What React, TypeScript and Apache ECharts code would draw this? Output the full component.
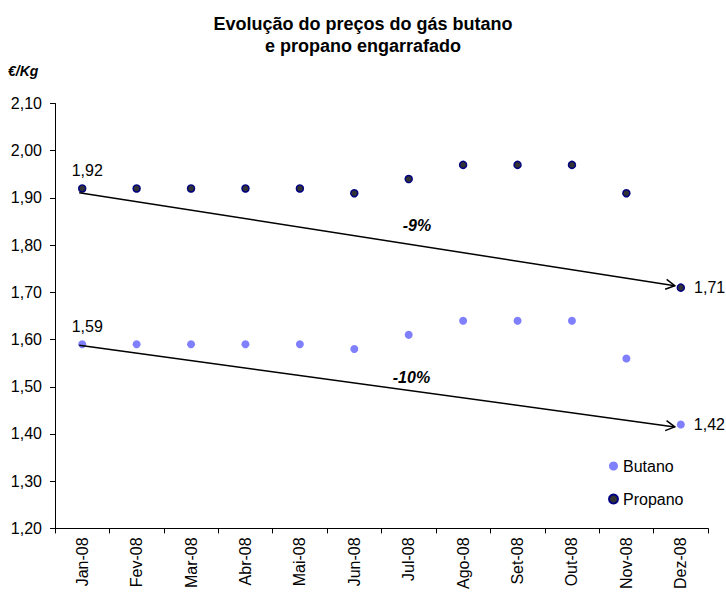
import React, { useEffect, useRef } from "react";
import * as echarts from "echarts";

const months = ["Jan-08", "Fev-08", "Mar-08", "Abr-08", "Mai-08", "Jun-08", "Jul-08", "Ago-08", "Set-08", "Out-08", "Nov-08", "Dez-08"];
const butano = [1.59, 1.59, 1.59, 1.59, 1.59, 1.58, 1.61, 1.64, 1.64, 1.64, 1.56, 1.42];
const propano = [1.92, 1.92, 1.92, 1.92, 1.92, 1.91, 1.94, 1.97, 1.97, 1.97, 1.91, 1.71];
const yMin = 1.2;
const yMax = 2.1;
const yStep = 0.1;
// trend arrows: start value (Jan), end value (Dez), label text, label value, label position (category index)
const trendFrom = [1.911, 1.588];
const trendTo = [1.714, 1.415];
const trendLabels = ["-9%", "-10%"];
const trendLabelValues = [1.842, 1.52];
const trendLabelIndex = [6.15, 6.05];

const FONT = "'Liberation Sans', Arial, sans-serif";
const fmt = (v: number) => v.toFixed(2).replace(".", ",");

function endLabels(values: number[]) {
  return values.map((v, i) => {
    if (i === 0) {
      return { value: v, label: { show: true, position: "top", distance: 6, offset: [5, 0], formatter: () => fmt(v) } };
    }
    if (i === values.length - 1) {
      return { value: v, label: { show: true, position: "right", distance: 9, formatter: () => fmt(v) } };
    }
    return v;
  });
}

export default function App() {
  const ref = useRef<HTMLDivElement>(null);
  useEffect(() => {
    if (!ref.current) return;
    const chart = echarts.init(ref.current, null, { renderer: "svg" });
    const labelStyle = { color: "#000", fontSize: 16, fontFamily: FONT };
    chart.setOption({
      animation: false,
      backgroundColor: "#fff",
      textStyle: { fontFamily: FONT },
      title: {
        text: "Evolução do preços do gás butano\ne propano engarrafado",
        left: "center",
        top: 8,
        textStyle: { fontSize: 18, fontWeight: "bold", color: "#000", lineHeight: 22, fontFamily: FONT },
      },
      legend: {
        orient: "vertical",
        left: 603,
        top: 453,
        itemWidth: 9,
        itemHeight: 9,
        itemGap: 17,
        icon: "circle",
        textStyle: { fontSize: 16, color: "#000", fontFamily: FONT },
        data: ["Butano", "Propano"],
      },
      grid: { left: 55, right: 18, top: 103.5, bottom: 61, containLabel: false },
      xAxis: {
        type: "category",
        data: months,
        boundaryGap: true,
        axisLine: { lineStyle: { color: "#000", width: 1 } },
        axisTick: { show: true, length: 5, interval: 0, lineStyle: { color: "#000" } },
        axisLabel: { rotate: 90, interval: 0, margin: 9, ...labelStyle },
        splitLine: { show: false },
      },
      yAxis: {
        type: "value",
        min: yMin,
        max: yMax,
        interval: yStep,
        axisLine: { show: true, lineStyle: { color: "#000", width: 1 } },
        axisTick: { show: true, length: 5, lineStyle: { color: "#000" } },
        axisLabel: { margin: 13, formatter: (v: number) => fmt(v), ...labelStyle },
        splitLine: { show: false },
      },
      series: [
        {
          name: "Butano",
          type: "scatter",
          symbol: "circle",
          symbolSize: 8,
          itemStyle: { color: "#8080FF", opacity: 1 },
          label: { ...labelStyle },
          data: endLabels(butano),
        },
        {
          name: "Propano",
          type: "scatter",
          symbol: "circle",
          symbolSize: 7,
          itemStyle: { color: "#333333", borderColor: "#000080", borderWidth: 1.5, opacity: 1 },
          label: { ...labelStyle },
          data: endLabels(propano),
        },
      ],
    });

    const graphics: any[] = [
      {
        type: "text",
        left: 8,
        top: 64,
        style: { text: "€/Kg", fontSize: 14, fontWeight: "bold", fontStyle: "italic", fill: "#000", fontFamily: FONT },
      },
    ];
    const last = months.length - 1;
    for (let k = 0; k < trendFrom.length; k++) {
      const a = chart.convertToPixel({ xAxisIndex: 0, yAxisIndex: 0 }, [0, trendFrom[k]]) as number[];
      const b = chart.convertToPixel({ xAxisIndex: 0, yAxisIndex: 0 }, [last, trendTo[k]]) as number[];
      const x1 = a[0] - 3, y1 = a[1];
      const x2 = b[0] - 6, y2 = b[1];
      const ang = Math.atan2(y2 - y1, x2 - x1);
      const L = 9, W = 5;
      const bx = x2 - L * Math.cos(ang), by = y2 - L * Math.sin(ang);
      const px = -Math.sin(ang) * W, py = Math.cos(ang) * W;
      graphics.push({ type: "line", shape: { x1, y1, x2, y2 }, style: { stroke: "#000", lineWidth: 1.5 }, z: 10 });
      graphics.push({
        type: "polyline",
        shape: { points: [[bx + px, by + py], [x2, y2], [bx - px, by - py]] },
        style: { stroke: "#000", lineWidth: 1.5, fill: null },
        z: 10,
      });
      const ly = (chart.convertToPixel({ xAxisIndex: 0, yAxisIndex: 0 }, [0, trendLabelValues[k]]) as number[])[1];
      const lx = a[0] + ((b[0] - a[0]) * trendLabelIndex[k]) / last;
      graphics.push({
        type: "text",
        x: lx,
        y: ly,
        style: {
          text: trendLabels[k],
          fontSize: 16,
          fontWeight: "bold",
          fontStyle: "italic",
          fill: "#000",
          fontFamily: FONT,
          align: "center",
          verticalAlign: "middle",
        },
        z: 11,
      });
    }
    chart.setOption({ graphic: graphics });
    return () => chart.dispose();
  }, []);
  return <div ref={ref} style={{ width: 726, height: 592, position: "absolute", left: 0, top: 0 }} />;
}
